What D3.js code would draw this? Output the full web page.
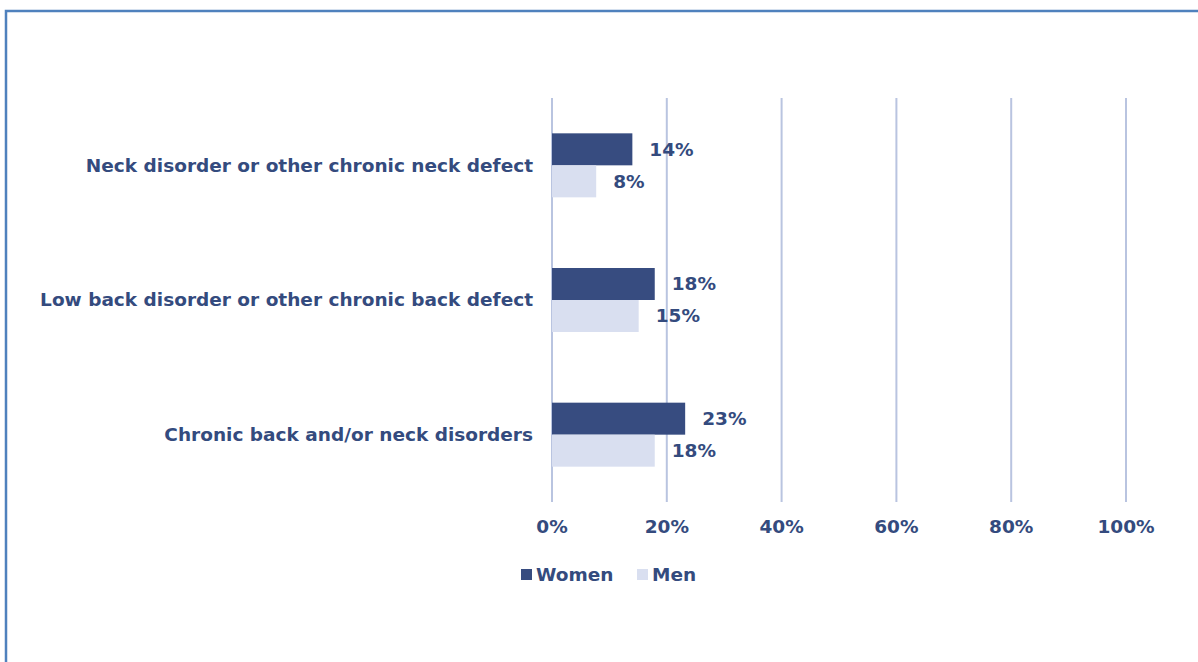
<!DOCTYPE html>
<html><head><meta charset="utf-8">
<script src="https://cdn.jsdelivr.net/npm/d3@7"></script>
<style>body{margin:0;background:#fff;} svg{display:block;}</style>
</head><body>
<svg id="chart" width="1198" height="662"></svg>
<script>
const categories = ["Neck disorder or other chronic neck defect", "Low back disorder or other chronic back defect", "Chronic back and/or neck disorders"];
const seriesNames = ["Women", "Men"];
const women = [14, 17.9, 23.2];
const men = [7.7, 15.1, 17.9];
const tickValues = [0, 20, 40, 60, 80, 100];

const colors = {Women: "#374c80", Men: "#d9dff0"};
const textColor = "#344b7e";
const font = "'DejaVu Sans', Verdana, sans-serif";
const fs = 18.5;

const svg = d3.select("#chart");
// frame
svg.append("path").attr("d", "M6,700 L6,11 L1210,11")
  .attr("fill", "none").attr("stroke", "#4f81bd").attr("stroke-width", 2.5);

const x = d3.scaleLinear().domain([0, 100]).range([552, 1126]);
const y = d3.scaleBand().domain(categories).range([98, 502]);
const sub = d3.scaleBand().domain(seriesNames).range([0, 64]);

// gridlines
svg.append("g").selectAll("line").data(tickValues).join("line")
  .attr("x1", d => x(d)).attr("x2", d => x(d))
  .attr("y1", 98).attr("y2", 502)
  .attr("stroke", "#b9c4e0").attr("stroke-width", 2);

// tick labels
svg.append("g").selectAll("text").data(tickValues).join("text")
  .attr("x", d => x(d)).attr("y", 527).attr("dy", "0.35em")
  .attr("text-anchor", "middle").attr("fill", textColor)
  .attr("font-family", font).attr("font-weight", "bold").attr("font-size", fs)
  .text(d => d + "%");

const rows = categories.map((c, i) => ({cat: c, vals: [{s: "Women", v: women[i]}, {s: "Men", v: men[i]}]}));

const g = svg.append("g").selectAll("g").data(rows).join("g")
  .attr("transform", d => `translate(0,${y(d.cat) + y.bandwidth() / 2 - 32})`);

g.selectAll("rect").data(d => d.vals).join("rect")
  .attr("x", x(0)).attr("y", d => sub(d.s))
  .attr("width", d => x(d.v) - x(0)).attr("height", sub.bandwidth())
  .attr("fill", d => colors[d.s]);

g.selectAll("text.val").data(d => d.vals).join("text").attr("class", "val")
  .attr("x", d => x(d.v) + 17).attr("y", d => sub(d.s) + sub.bandwidth() / 2).attr("dy", "0.35em")
  .attr("fill", textColor).attr("font-family", font).attr("font-weight", "bold").attr("font-size", fs)
  .text(d => Math.round(d.v) + "%");

// category labels
svg.append("g").selectAll("text").data(categories).join("text")
  .attr("x", 533).attr("y", d => y(d) + y.bandwidth() / 2).attr("dy", "0.35em")
  .attr("text-anchor", "end").attr("fill", textColor)
  .attr("font-family", font).attr("font-weight", "bold").attr("font-size", fs)
  .text(d => d);

// legend
const legend = svg.append("g");
const legendX = [521, 637];
seriesNames.forEach((s, i) => {
  legend.append("rect").attr("x", legendX[i]).attr("y", 569).attr("width", 11).attr("height", 11).attr("fill", colors[s]);
  legend.append("text").attr("x", legendX[i] + 15).attr("y", 575).attr("dy", "0.35em")
    .attr("fill", textColor).attr("font-family", font).attr("font-weight", "bold").attr("font-size", fs)
    .text(s);
});
</script>
</body></html>
